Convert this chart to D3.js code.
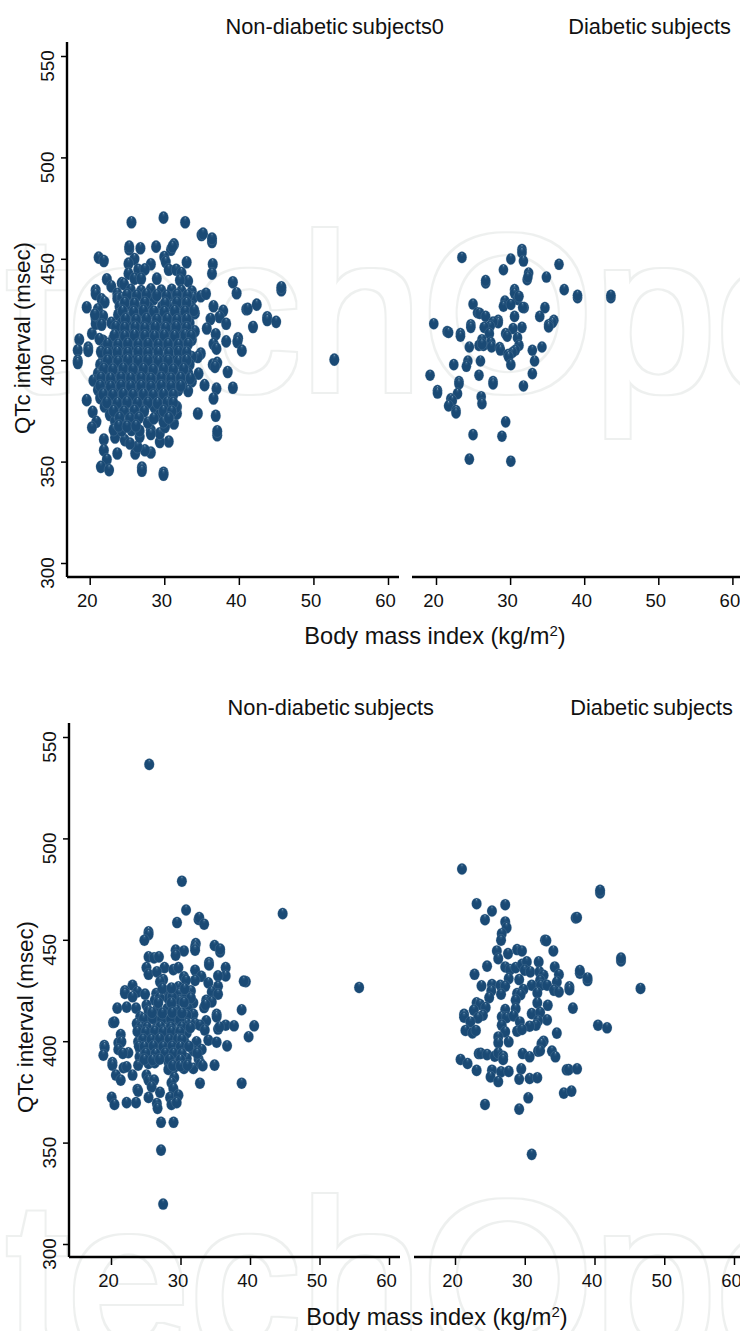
<!DOCTYPE html>
<html><head><meta charset="utf-8">
<style>html,body{margin:0;padding:0;background:#fff;overflow:hidden}svg{display:block}text{font-family:"Liberation Sans",Arial,sans-serif;fill:#111}</style>
<script src="https://cdn.jsdelivr.net/npm/d3@7"></script>
</head><body><svg id="c" width="740" height="1331"></svg>
<script>
const bmiTicks=[20,30,40,50,60];
const qtcTicks=[300,350,400,450,500,550];
const titleNonTop="Non-diabetic subjects0", titleNon="Non-diabetic subjects", titleDia="Diabetic subjects";
const yTitle="QTc interval (msec)", xTitle="Body mass index (kg/m", watermark="IntechOpen";

// Upper row, non-diabetic subjects: [BMI, QTc]
const upperNon=[
[25.6,468],[29.9,470.3],[32.8,468],[35,461.7],[35.2,462.4],[36.4,458.3],[36.4,460],[25.3,454.7],[25.3,456],[26.8,455.2],[28.9,456],[31.3,457.1],[30.9,454.5],[31.1,456],
[21.2,450.6],[21.9,448.9],[30,450.9],[33,448.3],[26,449.9],[25.2,447.6],[30.2,448.4],[36.5,447.3],[36.4,442.7],[28.2,447.3],[30.6,444.6],[26.5,444.6],[27.4,444.8],[25.2,442.7],[31.6,444.6],[32.3,443],
[26,440.2],[26.9,440.2],[22.3,439.9],[22.9,436.4],[24.3,438],[24.6,437.5],[29,440.2],[33.2,439],[32.1,439.4],[39.2,438.4],[39.7,433],[45.7,434.5],[45.7,436],[20.8,434.5],[20.8,432.6],[21.6,430],[22,428.6],[23.7,432.8],[23.7,430.4],
[19.6,426.1],[21.1,425.1],[41,425.1],[41.2,425.3],[42.4,427.4],[43.8,421.2],[43.8,419.8],[45,418.9],[41.9,416.4],[36.6,426.6],[37.9,424.3],[37.4,421.3],[36.2,420.3],[35.7,415.6],[38.3,418],[36.9,412.8],[38.3,409.3],[39.9,410.8],[39.8,409],[40.4,404.7],[36.6,408],[37,405.7],[52.8,400.3],
[34.9,403.3],[34.5,401.6],[36.5,397.8],[37.1,398.7],[36.8,396.7],[38.5,394.2],[34.6,393.4],[35.4,387.7],[37,386],[36.6,381.1],[39.2,386.4],[34.5,373.7],[36.9,372.6],[37.1,363],[37.1,365],
[18.6,410.2],[18.4,404.9],[18.4,399.8],[18.4,398.6],[19.8,406.2],[19.8,404.6],[20.3,413.1],[20.8,420.5],[20.8,418],[19.6,380.3],[20.4,374.5],[20.9,369.6],[20.3,366.8],[21.9,360.9],[21.9,355.6],[22.3,351],[21.5,347.4],[22.6,345.8],[23.7,354],[27,347.1],[27,345.5],[29.9,344.5],[29.9,343.5],
[26.1,354],[28.2,354.5],[27.4,355.6],[30.6,359.9],[29.4,359.7],[29.4,363.9],[24.7,360.6],[23.4,361.9],[26.4,357.3],[26.7,362.2],[25.4,358.9],[31.3,368.8],[31.7,377],[31.7,373.7],[28.2,365.5],[28.2,363.6],[30.1,367.1],
[25.5,434.7],[26.9,434.1],[28.2,434.9],[29.6,434.3],[31,434.7],[32.3,434.2],[33.7,433.9],
[24.3,430.6],[25.7,430.1],[27.1,430.5],[28.6,430.2],[30.8,430.7],[32.2,430.3],[33.9,430.9],[34.9,431.5],[35.6,432.8],
[24,426.5],[25.4,426.2],[26.7,426.7],[27.9,426.1],[29.7,426.4],[31,426.8],[32.4,426],[33.6,426.5],
[23.8,422.4],[25.2,422],[26.5,422.6],[28.1,422.1],[29.4,422.3],[30.7,421.9],[32.1,422.5],[33.5,422],[34.1,423.2],[21.8,421.7],[20.7,422.5],
[24.3,418.3],[25.6,417.8],[26.9,418.2],[28.3,418],[29.6,417.6],[31,418.4],[32.3,417.9],[33.4,418.3],[21.6,417.5],[22.9,418.4],
[24.1,414.2],[25.4,413.8],[26.7,414.4],[28,414],[29.4,413.6],[30.7,414.3],[32.1,413.9],[34.1,414.2],
[21.8,409.6],[23.1,410.1],[24.5,409.7],[25.8,410.3],[27.2,409.9],[28.5,409.5],[29.9,410],[31.2,410.2],[32.6,409.6],[33.7,410.1],[21.3,410.4],
[22,405.9],[23.4,405.5],[24.7,406],[26,405.6],[27.4,406.1],[28.7,405.4],[30.1,405.8],[31.4,406],[32.8,405.5],
[21.8,401.7],[23.1,401.3],[24.5,402],[25.8,401.5],[27.2,401.8],[28.5,401.2],[29.9,401.9],[31.2,401.4],[32.5,401.8],[33.7,401.5],
[21.4,397.8],[22.7,397.2],[24,397.6],[25.4,397.9],[26.7,397.3],[28.1,397.7],[29.4,397.2],[30.7,397.8],[32.1,397.4],[33.4,397.9],
[21.1,393.5],[22.5,393.1],[23.8,393.7],[25.2,393.2],[26.5,393.6],[27.8,393],[29.2,393.5],[30.5,393.8],[31.9,393.2],[33.2,393.6],[20.5,390],
[21.8,389.5],[23.1,389],[24.5,389.6],[25.8,389.1],[27.2,389.4],[28.5,389.7],[29.9,389],[31.2,389.5],[32.5,389.2],[33.7,389.6],
[21.1,385.4],[22.5,385],[23.8,385.5],[25.2,385.1],[26.5,385.3],[27.8,384.9],[29.2,385.5],[30.5,385],[31.9,385.3],[33.2,384.8],
[21.4,381.3],[22.7,380.9],[24,381.4],[25.4,381],[26.7,381.2],[28.1,380.8],[29.4,381.3],[30.7,381],
[22,377.2],[23.4,376.8],[24.7,377.3],[26,376.9],[27.4,377.1],[28.7,376.7],[30.1,377.2],[31.6,376.9],
[22.7,373],[24,372.7],[25.4,373.1],[26.7,372.8],[29.4,373],[30.7,372.6],
[23.4,369.8],[24.7,369.4],[26,369.7],[27.8,369.3],[29.9,369.6],
[23.2,365.7],[24.3,365.3],[25.6,365.6],[26.7,365.2],
[25,432.2],[26.3,431.8],[27.6,432.4],[29,432],[30.3,431.7],[31.7,432.3],[33.1,431.9],
[24.7,428.3],[26,427.9],[27.4,428.4],[30.1,428.1],[31.7,428.5],[33,428.2],
[24.4,424.2],[25.9,423.8],[27.2,424.4],[28.6,424],[30,423.8],[31.4,424.3],[32.8,424],[34,424.6],
[24.8,420.3],[26.2,419.9],[27.6,420.4],[29,420],[30.4,420.3],[31.7,419.8],[33,420.2],
[23.5,416.4],[24.7,416],[26.1,416.2],[27.4,415.8],[28.8,416.3],[30.2,415.9],[31.6,416.4],[33,416],
[23.3,412.2],[24.7,411.8],[26,412.3],[27.4,412],[28.7,411.7],[30,412.2],[31.4,411.9],[32.8,412.4],[33.6,412],
[22.4,408],[23.8,407.7],[25.1,408.2],[26.5,407.8],[27.8,408.1],[29.2,407.7],[30.5,408],[31.9,407.6],[33.2,408.1],
[21.5,404.2],[22.4,403.6],[23.7,404],[25.1,403.7],[26.5,404.1],[27.8,403.6],[29.2,404],[30.6,403.7],[31.9,404.2],[33,403.8],
[22.4,399.8],[23.8,399.4],[25.1,400],[26.5,399.6],[27.8,399.9],[29.2,399.5],[30.5,399.8],[31.9,399.4],[33,400],
[21.9,395.8],[23.1,395.4],[24.5,395.9],[25.8,395.5],[27.2,395.7],[28.5,395.3],[29.9,395.8],[31.2,395.4],[32.6,395.7],
[21.5,391.4],[22.8,391],[24.2,391.5],[25.5,391.1],[26.9,391.3],[28.2,390.9],[29.6,391.4],[30.9,391],[32.2,391.3],[33.5,391],
[21.4,387.4],[22.8,387],[24.2,387.5],[25.5,387.1],[26.9,387.3],[28.2,387],[29.6,387.4],[30.9,387.1],[32.2,387.3],
[21.8,383.2],[23.1,382.9],[24.5,383.3],[25.8,382.9],[27.2,383.1],[28.5,382.8],[29.9,383.2],[31.2,382.9],
[22.3,379.2],[23.7,378.8],[25,379.3],[26.4,378.9],[27.8,379.1],[29.1,378.8],[30.4,379.2],[31.2,379],
[23.2,375],[24.6,374.7],[26,375.1],[27.3,374.8],[29.9,375],[31,374.7],
[24,371.6],[25.4,371.3],[26.6,371.6],[28.6,371.3],[30.6,371.5],
[23.9,367.6],[25,367.3],[26.2,367.6]
];
// Upper row, diabetic subjects: [BMI, QTc]
const upperDia=[
[31.6,454.6],[31.6,453],[23.5,450.7],[30.1,449.9],[31.8,448.9],[36.6,447.3],[29.1,444.6],[32.5,443],[34.9,441],[32.3,439.7],[32.4,441],[26.7,438.1],[26.7,439.3],[37.3,434.8],[30.6,434.8],[30.6,433],[39.1,430.8],[39.1,432],[43.6,430.8],[43.6,432],[31,430],[31.2,431.5],[29.3,429.2],[29.1,426.6],[30.1,427.5],[25,427.7],[31.9,425.9],[31.7,426],[34.7,425.9],
[25.6,423.4],[25.9,423.1],[26.7,421.6],[30.6,421.6],[34,421.6],[35.9,419.7],[35.7,418.5],[35.2,417.5],[35.2,416.4],[28.4,419.7],[28.4,418.5],[27.7,418.8],[19.7,418],[24.7,417.5],[24.7,416.2],[27.3,416.7],[26.5,416.2],[31.6,416.2],[30.4,415.6],[21.5,414.1],[21.7,413.7],[23.3,413.1],[23.3,411.8],[29.4,413.1],[29.6,411.8],[27.2,413.1],[31,411.1],[26.2,410.1],[27.4,408.7],[25.8,407.3],[26.4,407.3],[26.2,408],[27.5,406.5],[28.6,406.2],[28.7,405],[24.5,406.5],[31.2,407.3],[34.3,406.5],[30.7,404.9],[30.3,403.8],[33,404.9],[29.7,402.8],[29.8,401.6],
[33.3,399.6],[26,399.6],[24.3,399.6],[24.1,397],[22.4,397.8],[30.1,397.8],[19.2,392.6],[25.8,392.6],[33,393.4],[23.1,389.5],[23.1,388.3],[27.7,389.5],[27.7,388.3],[31.8,387.3],[20.2,385],[20.2,383.8],[22.9,383.5],[22,381],[22.2,380],[26.1,382],[26.2,378.6],[21.7,377.5],[22.7,375.2],[22.7,374],[29.4,369.6],[25,363.3],[28.9,362.5],[24.5,351.2],[30.1,350.2]
];
// Lower row, non-diabetic subjects: [BMI, QTc]
const lowerNon=[
[25.5,536.5],[30.2,478.9],[30.8,464.7],[32.6,460],[32.7,461],[33.4,457.7],[44.7,462.9],[29.5,458.5],[25.4,453.9],[25.4,452.6],[24.8,449.8],[32.2,448.1],[32.1,446.5],[32.1,444.9],[34.9,447.2],[35.7,444],[35.7,445.4],[29.3,444.9],[30.5,444.5],[29.3,442.4],[25.4,441.6],[26.2,441.1],[26.9,441.6],[34.1,438.8],[34.1,437.6],[25.1,436.3],[27.7,436.3],[28.97,435.3],[29.7,436.3],[36.5,436.3],[32.1,435],[36.5,432.2],[25.4,433],[26.6,434.2],[35.4,432.2],[33,432],[32.1,430],[30.5,431.7],[27.5,430.4],[30.8,430],[39.4,429.4],[39.1,429.6],
[55.7,426.5],[23.1,427.6],[34,428.8],[35.4,427.1],[27.05,429.3],[29.7,426.8],[22,424.8],[22,423.6],[23.8,424.3],[31.5,424.8],[24.9,423.2],[23.1,421.9],[26.5,423.5],[28.25,424.3],[29.8,423.5],[34.5,424.3],[35.4,423.2],[26.3,420.2],[28.25,421],[29.9,420.2],[30.9,422.7],[33.7,420.2],[34.5,419.4],[31.85,418.9],[33.4,416.6],[33.6,418],[20.9,416.3],[22.25,416.8],[23.6,416.3],[25.1,417.8],[25.4,415],[26.7,416.1],[28.1,416.1],[29.4,415.3],[31.1,416.1],[38.8,415.5],[31.85,413.3],[35.2,413.3],[35.2,412],[24.2,412],[30.9,412.8],[20.3,409.2],[20.5,409.4],[23.7,408.7],[24.9,409.2],[26.8,410.7],[28,409.6],[29.2,409.6],[30.9,408.7],[32.1,408.7],[33.7,410],[36.5,407.9],[37.7,407.6],[40.6,407.6],[35.4,406],[35.6,407],
[26.5,406.3],[27.8,406.3],[29.4,405.5],[32.8,407.9],[33.5,405.5],[21.4,403.3],[24.2,403],[25.6,403],[27.05,403],[28.25,403],[30.9,404.1],[39.8,402.2],[21.05,399.2],[21.5,399.7],[23.9,399.7],[25.4,398.9],[26.8,399.2],[28.1,399.2],[29.4,399.7],[30.6,399.4],[32.3,399.7],[34,400.5],[35.2,399.5],[36.7,397.7],[19.04,397.9],[19.1,396.8],[21.05,395.9],[22.5,394.3],[18.9,393.1],[21.7,394],[24.2,395.6],[25.6,395.6],[27.05,395.6],[28.3,395.9],[31.85,395.3],[33.05,395.9],[24.1,392.3],[27.5,392.7],[29.2,393.1],[30.9,391.5],[32.6,391.2],[20.2,389.5],[20.2,388.2],[25.4,389],[26.3,389.4],[23.9,388.2],[21.8,386.9],[22.25,387.4],[28.25,389.9],[28.97,386.6],[29.9,390.7],[28.25,386.1],[30.5,386.6],[31.85,386.6],[32.9,389],[34.9,388.2],
[20.7,383.3],[23.1,383.3],[21.4,380.8],[25.1,383.3],[25.4,380.8],[26.2,380.8],[29.1,382.1],[28.7,379.5],[32.8,379.3],[38.8,379.3],[23.8,376.2],[23.9,375.4],[25.85,377.5],[27.05,374.8],[28.97,376.7],[20.1,372.3],[20.5,368.8],[22.25,369.7],[23.6,369.7],[25.4,372.3],[26.6,369.3],[26.7,366.9],[28.5,372.3],[29.7,373.4],[28.7,368.8],[29.45,369.7],[27.2,360],[29,360],[27.2,346.3],[27.5,319.7],
[24.7,411],[26,411.2],[27.3,410.8],[28.6,411],[29.9,410.7],
[24.3,407],[25.2,406.8],[27.1,407.1],[28.6,406.9],[30.2,407],[31.4,406.7],
[23.8,404.8],[25,404.5],[26.3,404.9],[27.5,404.6],[28.7,404.8],[29.9,404.5],
[24.6,401],[25.8,400.8],[27,401.2],[28.4,400.9],[29.6,401.1],[30.2,400.8],
[24,397.5],[24.8,397.2],[26.1,397.6],[27.5,397.3],[28.8,397.5],[30,397.2],[31.2,397.5],
[25,394],[26.4,393.8],[27.8,394.1],[29,394],[30.2,393.8],[32.4,394],
[24.8,391],[26,390.8],[27,391.1],[28.4,391],[30,390.8],
[28.9,388],[30,387.8],[31,388.1],[33.2,387.9],
[27,421.5],[28.8,421.7],[31.5,421.3],[27.4,426],[28.7,426.2],[30.6,425.8],[26.8,419],[28.7,418.8],[30.5,419.1],[25.9,414],[27.4,413.8],[28.8,414.1],[30.2,413.9]
];
// Lower row, diabetic subjects: [BMI, QTc]
const lowerDia=[
[21,484.9],[40.8,473.1],[40.8,474.4],[23.1,467.8],[27.2,467.3],[25.3,464.2],[24.3,459.9],[37.3,460.8],[37.5,461],[27.2,458.8],[27.4,456],[26.7,453],[26.6,449.8],[32.9,449.8],[33.1,449.6],[34.1,444.5],[28.9,445.2],[29.6,444.5],[26,444.5],[27.6,443.2],[26.2,440.7],[43.8,439.6],[43.8,441],[24.6,437],[27.2,436.6],[27.9,435.3],[28.7,436.3],[29.6,437.9],[30.3,439.1],[32,439.1],[30,435],[30.8,434.2],[34.3,436.6],[34.9,432.9],[22.8,433],[32.1,434.2],[32.7,432.5],[37.9,433.5],[37.9,434.8],[39,429.9],[39,431.2],[27.7,430.9],[29.2,430.4],[32.2,430],[34.6,429.2],[23.8,427.3],[25.3,427.9],[31,427.6],[26.5,427.6],[27.2,427.1],[32.3,427.6],[33.2,427.6],[36.4,426.8],[36.4,425.4],[46.6,426],[34.2,425.1],[34.9,424.3],[29.8,425.5],[31.8,423.8],[25.2,424.8],[24.9,421.5],[26.6,423.2],[28.9,423.5],[29.4,423],[28.7,420.2],
[23.1,418.9],[23.6,418.1],[24.4,416.6],[31.8,418.9],[33.3,417.7],[28.7,416.1],[22.7,415.3],[27.2,415.6],[36.9,416.3],[21.3,413.3],[21.3,411.8],[24,412.8],[23.3,411.5],[31,413.6],[32.2,414.1],[26.7,412],[27.4,411.7],[28.4,412.5],[33.2,410.5],[31.9,410],[29.3,409.5],[22.2,409.5],[26.7,407.9],[31.6,407.9],[30.7,407.4],[40.5,407.9],[41.8,406.6],[21.5,405.3],[22.5,404.1],[23,405.3],[27.2,404.6],[28.9,404.9],[29.6,405.8],[34.6,404],[26.2,402.1],[26.2,399.2],[27.7,399.7],[32.7,400],[32.4,398.8],[23.4,393.9],[23.7,394],[24.6,393.4],[25.7,392.6],[26.2,394.2],[26.9,392.6],[26.9,391],[29.7,393.9],[31.9,395.1],[32.2,395.3],[30.7,392.3],[33.9,395.1],[34.4,392.3],[20.8,391],[21.8,389],[23.1,385.6],[25.3,385.7],[25.1,382.4],[26.6,384.9],[27.7,385.1],[29.5,386.4],[29.2,381.3],[26.2,380.1],[30.7,381.6],[31.8,382],[36,385.9],[36.3,386],[37.5,386.4],[35.6,374.4],[36.7,375.4],[30.5,372.1],[24.3,368.8],[29.2,366.5],[31,344.2]
];

const svg=d3.select("#c");
const defs=svg.append("defs");
const g=defs.append("radialGradient").attr("id","dot").attr("cx",.5).attr("cy",.5).attr("r",.55).attr("fx",.5).attr("fy",.12);
[[0,"#86a8c2"],[.16,"#2c5a82"],[.36,"#1a4a75"],[1,"#1a4a75"]].forEach(s=>g.append("stop").attr("offset",s[0]).attr("stop-color",s[1]));

// outline filter for the pale publisher mark: a thin ring grown around the glyphs
const f=defs.append("filter").attr("id","ring").attr("filterUnits","userSpaceOnUse")
  .attr("x",-20).attr("y",0).attr("width",780).attr("height",1331);
f.append("feMorphology").attr("in","SourceAlpha").attr("operator","dilate").attr("radius",4.4).attr("result","outer");
f.append("feMorphology").attr("in","SourceAlpha").attr("operator","dilate").attr("radius",2.2).attr("result","inner");
f.append("feFlood").attr("flood-color","#eef0ef").attr("result","tint");
f.append("feComposite").attr("in","outer").attr("in2","inner").attr("operator","out").attr("result","band");
f.append("feComposite").attr("in","tint").attr("in2","band").attr("operator","in");

[[-177,390],[-177,1356]].forEach(p=>{
  svg.append("text").attr("x",p[0]).attr("y",p[1]).text(watermark)
   .style("font-size","220px").attr("filter","url(#ring)");
});

function panel(o){
  const x=d3.scaleLinear().domain([20,60]).range(o.xr);
  const y=d3.scaleLinear().domain([300,550]).range(o.yr);
  const gx=svg.append("g").attr("transform",`translate(0,${o.base})`);
  gx.call(d3.axisBottom(x).tickValues(bmiTicks).tickSize(8).tickPadding(9));
  gx.select(".domain").remove();
  gx.selectAll(".tick line").attr("stroke","#000").attr("stroke-width",1.5);
  gx.selectAll(".tick text").attr("dx",-3).style("font-size","18.5px").style("font-family","'Liberation Sans'").attr("fill","#111");
  gx.append("line").attr("x1",o.ax0).attr("x2",o.ax1).attr("stroke","#000").attr("stroke-width",2.4);
  if(o.yAxis){
    const gy=svg.append("g").attr("transform",`translate(${o.ax0},0)`);
    gy.call(d3.axisLeft(y).tickValues(qtcTicks).tickSize(6).tickFormat(()=>""));
    gy.select(".domain").remove();
    gy.selectAll(".tick line").attr("stroke","#000").attr("stroke-width",1.5);
    gy.append("line").attr("y1",o.top).attr("y2",o.base).attr("stroke","#000").attr("stroke-width",2.4);
    svg.selectAll(null).data(qtcTicks).enter().append("text")
      .attr("transform",d=>`translate(${o.ax0-13},${y(d)+10}) rotate(-90)`).attr("text-anchor","middle")
      .style("font-size","19px").text(d=>d);
  }
  svg.append("g").selectAll("ellipse").data(o.data).enter().append("ellipse")
    .attr("cx",d=>x(d[0])).attr("cy",d=>y(d[1])).attr("rx",o.rx).attr("ry",o.ry).attr("fill","url(#dot)")
    .attr("stroke","#7d9ab4").attr("stroke-opacity",.35).attr("stroke-width",.6);
  svg.append("text").attr("x",o.titleX).attr("y",o.titleY).attr("text-anchor","end").style("font-size","21.8px").style("word-spacing","-2px").text(o.title);
}
panel({data:upperNon,xr:[89.7,388],yr:[563,56],base:577,top:42,ax0:67,ax1:399,yAxis:true,rx:5,ry:6.3,title:titleNonTop,titleX:444,titleY:34});
panel({data:upperDia,xr:[436,732.4],yr:[563,56],base:577,top:42,ax0:412,ax1:740,yAxis:false,rx:4.8,ry:5.8,title:titleDia,titleX:731,titleY:34});
panel({data:lowerNon,xr:[111,389],yr:[1244,737],base:1257,top:723,ax0:69,ax1:400,yAxis:true,rx:5,ry:5.8,title:titleNon,titleX:434,titleY:715});
panel({data:lowerDia,xr:[455,734],yr:[1244,737],base:1257,top:723,ax0:414,ax1:740,yAxis:false,rx:5,ry:5.8,title:titleDia,titleX:733,titleY:715});

[[30,338],[33,1017]].forEach(p=>{
  svg.append("text").attr("transform",`translate(${p[0]},${p[1]}) rotate(-90)`).attr("text-anchor","middle").style("font-size","22.3px").text(yTitle);
});
[[435,644],[437,1325]].forEach(p=>{
  const t=svg.append("text").attr("x",p[0]).attr("y",p[1]).attr("text-anchor","middle").style("font-size","23.6px").text(xTitle);
  t.append("tspan").attr("dy",-8).style("font-size","15px").text("2");
  t.append("tspan").attr("dy",8).text(")");
});
</script></body></html>
